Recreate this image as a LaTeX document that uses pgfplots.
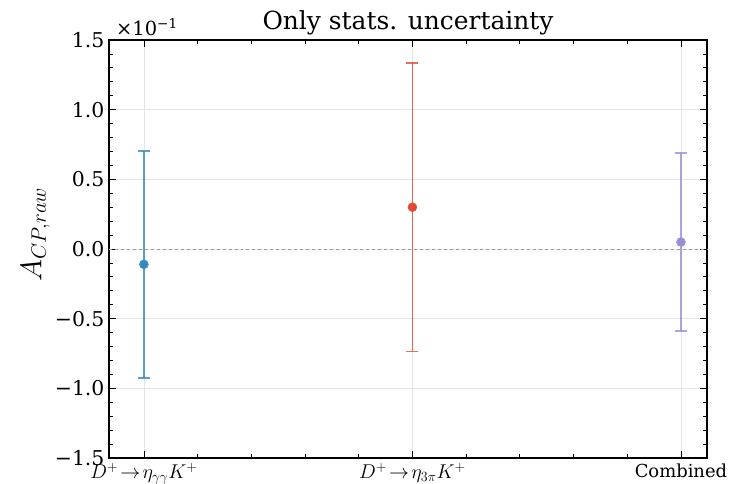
\RequirePackage{fix-cm}
\documentclass[border=0pt]{standalone}
\usepackage{pgfplots}
\pgfplotsset{compat=1.18}
\usepackage{fontspec}
\setmainfont{DejaVu Serif}
\definecolor{cblue}{HTML}{348ABD}
\definecolor{cred}{HTML}{E24A33}
\definecolor{cpurple}{HTML}{988ED5}
\protected\def\mn{\char"2212\relax}
\protected\def\labA{{\fontsize{20}{22}\selectfont\ensuremath{D^{+}\!\rightarrow\!\eta_{\gamma\gamma}K^{+}}}}
\protected\def\labB{{\fontsize{20}{22}\selectfont\ensuremath{D^{+}\!\rightarrow\!\eta_{3\pi}K^{+}}}}
\protected\def\ylab{\ensuremath{A_{CP,raw}}}
\begin{document}
\begin{tikzpicture}
\begin{axis}[
  scale only axis,
  width=598bp, height=418bp,
  xmin=-0.13, xmax=2.097,
  ymin=-1.5, ymax=1.5,
  xtick={0,1,2},
  xticklabels={\labA, \labB, Combined},
  ytick={-1.5,-1,-0.5,0,0.5,1,1.5},
  yticklabels={\mn1.5,\mn1.0,\mn0.5,0.0,0.5,1.0,1.5},
  minor x tick num=4,
  minor y tick num=4,
  tick pos=both,
  tick align=inside,
  major tick length=7bp,
  minor tick length=4bp,
  every tick/.style={black, line width=0.8bp},
  axis line style={black, line width=1.5bp},
  grid=major,
  major grid style={gray!20, line width=0.6bp},
  yticklabel style={font=\fontsize{20.5}{22}\selectfont, xshift=-1bp},
  xticklabel style={font=\fontsize{18}{20}\selectfont, yshift=-2bp},
  ylabel={\ylab},
  ylabel style={font=\fontsize{30}{32}\selectfont, at={(ticklabel cs:0.535)}, yshift=-2bp},
  title={Only stats. uncertainty},
  title style={font=\fontsize{25}{27}\selectfont, yshift=-5bp},
  clip=false,
]
\coordinate (bl) at (rel axis cs:0,0);
\coordinate (tr) at (rel axis cs:1,1);
\draw[gray!80, dashed, line width=0.8bp] (rel axis cs:0,0.5) -- (rel axis cs:1,0.5);
\addplot[only marks, mark=*, mark size=4.5bp, color=cblue,
  error bars/.cd, y dir=both, y explicit,
  error bar style={line width=1.5bp, cblue, opacity=0.8},
  error mark options={rotate=90, mark size=6bp, line width=1.5bp, cblue, opacity=0.8}]
  coordinates {(0,-0.11) +- (0,0.815)};
\addplot[only marks, mark=*, mark size=4.5bp, color=cred,
  error bars/.cd, y dir=both, y explicit,
  error bar style={line width=1.5bp, cred, opacity=0.8},
  error mark options={rotate=90, mark size=6bp, line width=1.5bp, cred, opacity=0.8}]
  coordinates {(1,0.30) +- (0,1.035)};
\addplot[only marks, mark=*, mark size=4.5bp, color=cpurple,
  error bars/.cd, y dir=both, y explicit,
  error bar style={line width=1.5bp, cpurple, opacity=0.8},
  error mark options={rotate=90, mark size=6bp, line width=1.5bp, cpurple, opacity=0.8}]
  coordinates {(2,0.05) +- (0,0.64)};
\node[anchor=south west, inner sep=0pt, font=\fontsize{19.5}{21}\selectfont] at ([xshift=7bp,yshift=4bp]rel axis cs:0,1) {×10\textsuperscript{\mn1}};
\end{axis}
\pgfresetboundingbox
\path ([shift={(-109bp,-26bp)}]bl) rectangle ([shift={(24bp,40bp)}]tr);
\end{tikzpicture}
\end{document}
